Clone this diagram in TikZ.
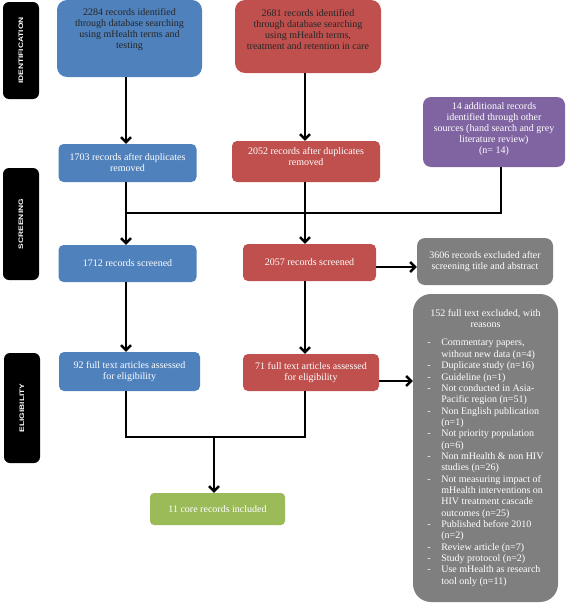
\documentclass[tikz,border=0pt]{standalone}
\usepackage{fontspec}
\usepackage{graphicx}
\setmainfont{Liberation Serif}
\newfontfamily\phasefont{Liberation Sans}
\usetikzlibrary{arrows.meta}

\definecolor{boxblue}{HTML}{4F81BD}
\definecolor{boxred}{HTML}{C0504D}
\definecolor{boxpurple}{HTML}{8064A2}
\definecolor{boxgrey}{HTML}{7F7F7F}
\definecolor{boxgreen}{HTML}{9BBB59}

\begin{document}
\begin{tikzpicture}[x=1pt,y=-1pt,
    box/.style={rounded corners=5pt, text=white, align=center, inner sep=0pt,
      font=\fontsize{10}{11}\selectfont},
    phase/.style={fill=black, rounded corners=6pt, rotate=90, text=white,
      minimum height=36pt, inner sep=0pt,
      font=\phasefont\bfseries\fontsize{6.5}{7}\selectfont},
    line/.style={line width=2.4pt},
    arr/.style={line, -{Straight Barb[length=5pt,width=10pt]}}]

  \useasboundingbox (0,0) rectangle (567,605);

  % phases
  \node[phase, minimum width=97pt]  (ph1) at (21,50.5) {\scalebox{1.3}[1]{IDENTIFICATION}};
  \node[phase, minimum width=112pt] (ph2) at (21,224)  {\scalebox{1.3}[1]{SCREENING}};
  \node[phase, minimum width=110pt] (ph3) at (22,408)  {\scalebox{1.3}[1]{ELIGIBILITY}};

  % columns
  \coordinate (bcol) at (126,0);
  \coordinate (rcol) at (305,0);
  \coordinate (mergeS) at (126,213);
  \coordinate (joinP) at (501,213);
  \coordinate (mergeE) at (214,437);

  \begin{scope}[every node/.append style={box}]
    \node[fill=boxblue, rounded corners=10pt, text=black!85, minimum width=145pt,
      text height=48.5pt, text depth=28.5pt] (b1) at (129.5,38.5)
      {2284 records identified\\through database searching\\using mHealth terms and\\testing};
    \node[fill=boxblue, minimum width=138pt, minimum height=38pt] (b2) at (127.5,163)
      {1703 records after duplicates\\removed};
    \node[fill=boxblue, minimum width=138pt, minimum height=37pt] (b3) at (127.5,263.5)
      {1712 records screened};
    \node[fill=boxblue, minimum width=141pt, minimum height=39pt] (b4) at (129.5,371.5)
      {92 full text articles assessed\\for eligibility};

    \node[fill=boxred, rounded corners=10pt, text=black!85, minimum width=146pt,
      text height=49.5pt, text depth=23.5pt] (r1) at (308,36.5)
      {2681 records identified\\through database searching\\using mHealth terms,\\treatment and retention in care};
    \node[fill=boxred, minimum width=148pt, text height=24.5pt, text depth=16.5pt] (r2) at (306,161.5)
      {2052 records after duplicates\\removed};
    \node[fill=boxred, minimum width=133pt, minimum height=37pt] (r3) at (309.5,262.5)
      {2057 records screened};
    \node[fill=boxred, minimum width=136pt, minimum height=37pt] (r4) at (311,372.5)
      {71 full text articles assessed\\for eligibility};

    \node[fill=boxpurple, rounded corners=8pt, minimum width=142pt,
      text height=56.5pt, text depth=13.5pt] (p1) at (494,132)
      {14 additional records\\identified through other\\sources (hand search and grey\\literature review)\\(n= 14)};

    \node[fill=boxgrey, rounded corners=8pt, minimum width=136pt, minimum height=47pt] (g1) at (485,261.5)
      {3606 records excluded after\\screening title and abstract};
    \node[fill=boxgrey, rounded corners=18pt, minimum width=145pt, minimum height=308pt,
      font=\fontsize{10}{11.35}\selectfont] (g2) at (485.5,448)
      {\begin{tabular}{@{}l@{\hspace{10.5pt}}l@{}}
        \multicolumn{2}{@{}c@{}}{152 full text excluded, with}\\
        \multicolumn{2}{@{}c@{}}{reasons}\\[7pt]
        - & Commentary papers,\\
          & without new data (n=4)\\
        - & Duplicate study (n=16)\\
        - & Guideline (n=1)\\
        - & Not conducted in Asia-\\
          & Pacific region (n=51)\\
        - & Non English publication\\
          & (n=1)\\
        - & Not priority population\\
          & (n=6)\\
        - & Non mHealth \& non HIV\\
          & studies (n=26)\\
        - & Not measuring impact of\\
          & mHealth interventions on\\
          & HIV treatment cascade\\
          & outcomes (n=25)\\
        - & Published before 2010\\
          & (n=2)\\
        - & Review article (n=7)\\
        - & Study protocol (n=2)\\
        - & Use mHealth as research\\
          & tool only (n=11)
      \end{tabular}};

    \node[fill=boxgreen, rounded corners=4pt, minimum width=135pt, minimum height=32pt] (inc) at (217.5,509)
      {11 core records included};
  \end{scope}

  % identification to screening
  \draw[arr] (b1.south -| bcol) -- (b2.north -| bcol);
  \draw[arr] (r1.south -| rcol) -- (r2.north -| rcol);
  \draw[line] (p1.south -| joinP) -- (joinP) -- (mergeS);
  \draw[arr] (b2.south -| bcol) -- (b3.north -| bcol);
  \draw[arr] (r2.south -| rcol) -- (r3.north -| rcol);
  \draw[arr] ([yshift=-4.5pt]r3.east) -- ([yshift=-4.5pt]r3.east -| g1.west);

  % screening to eligibility
  \draw[arr] (b3.south -| bcol) -- (b4.north -| bcol);
  \draw[arr] (r3.south -| rcol) -- (r4.north -| rcol);
  \draw[arr] ([yshift=-8.5pt]r4.east) -- ([yshift=-8.5pt]r4.east -| g2.west);

  % included
  \draw[line] (b4.south -| bcol) |- (mergeE);
  \draw[line] (r4.south -| rcol) |- (mergeE);
  \draw[arr] (mergeE) -- (inc.north -| mergeE);

\end{tikzpicture}
\end{document}
